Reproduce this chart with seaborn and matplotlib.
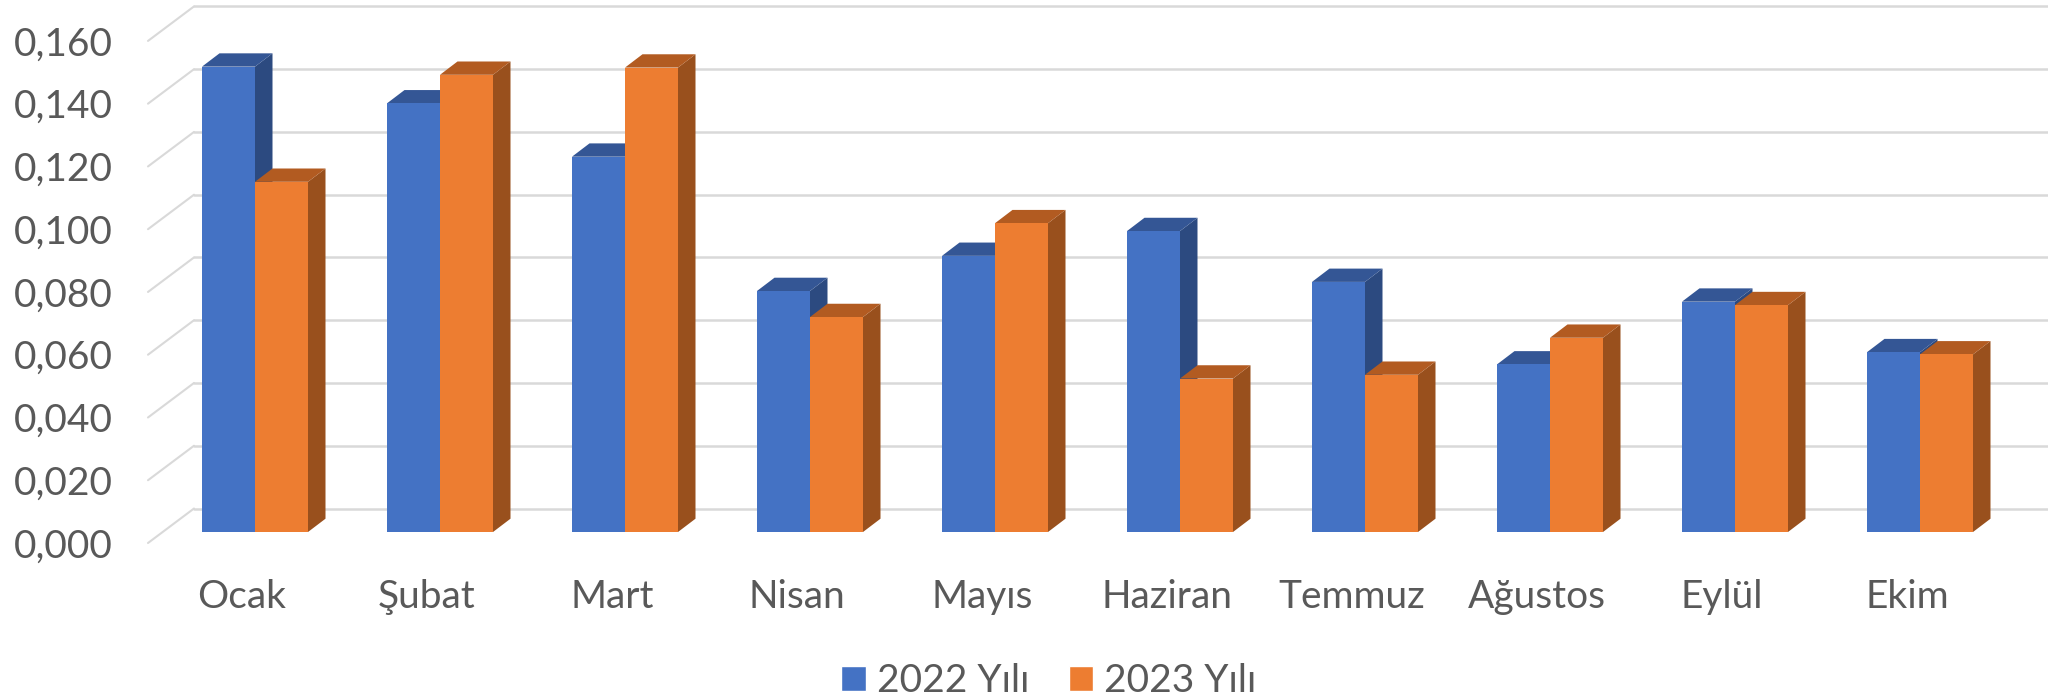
import matplotlib
matplotlib.use("Agg")
import matplotlib.pyplot as plt
from matplotlib.transforms import ScaledTranslation
import pandas as pd
import seaborn as sns

# Values
months = ["Ocak", "Şubat", "Mart", "Nisan", "Mayıs", "Haziran", "Temmuz", "Ağustos", "Eylül", "Ekim"]
values_2022 = [0.1483, 0.1366, 0.1196, 0.0768, 0.0880, 0.0959, 0.0797, 0.0534, 0.0734, 0.0573]
values_2023 = [0.1116, 0.1457, 0.1480, 0.0685, 0.0984, 0.0489, 0.0501, 0.0619, 0.0723, 0.0566]
series_names = ["2022 Yılı", "2023 Yılı"]
y_ticks = [0.00, 0.02, 0.04, 0.06, 0.08, 0.10, 0.12, 0.14, 0.16]
y_labels = ["0,000", "0,020", "0,040", "0,060", "0,080", "0,100", "0,120", "0,140", "0,160"]

front_colors = ["#4472C4", "#ED7D31"]
side_colors = ["#2C4A80", "#99501D"]
top_colors = ["#345695", "#B25B21"]
TEXT = "#595959"
GRID = "#D9D9D9"

WIDTH, HEIGHT, DPI = 2048, 697, 100
PX_X = 185.0  # pixels per category
PX_Y = 3138.0  # pixels per unit of value
BASE_X, BASE_Y = 255.0, 532.0  # first category centre, bar baseline


def dx(px):
    return px / PX_X


def dy(px):
    return px / PX_Y


sns.set_theme(style="white")
plt.rcParams["font.family"] = ["Lato", "DejaVu Sans"]

df = pd.DataFrame({
    "month": months * 2,
    "value": values_2022 + values_2023,
    "year": [series_names[0]] * len(months) + [series_names[1]] * len(months),
})

fig = plt.figure(figsize=(WIDTH / DPI, HEIGHT / DPI), dpi=DPI)
left, right, top = 148.0, 2048.0, 6.0
ax = fig.add_axes([left / WIDTH, 1 - BASE_Y / HEIGHT, (right - left) / WIDTH, (BASE_Y - top) / HEIGHT])

sns.barplot(
    data=df, x="month", y="value", hue="year", order=months, hue_order=series_names,
    palette=front_colors, width=106 / PX_X, saturation=1, gap=0, errorbar=None, ax=ax, zorder=3,
)

ax.set_xlim((left - BASE_X) / PX_X, (right - BASE_X) / PX_X)
ax.set_ylim(0, (BASE_Y - top) / PX_Y)

# Back wall and floor lines
for v in y_ticks:
    back = v + dy(23.5)
    front = v - dy(11)
    x0 = ax.get_xlim()[0]
    ax.plot([x0, x0 + dx(46)], [front, back], color=GRID, lw=1.5, clip_on=False, zorder=1)
    ax.plot([x0 + dx(46), ax.get_xlim()[1]], [back, back], color=GRID, lw=1.8, clip_on=False, zorder=1)

# Extruded side and top faces of each bar
depth_x, depth_y = dx(17.5), dy(13.3)
for s, container in enumerate(ax.containers):
    for bar in container:
        x0, w, h = bar.get_x(), bar.get_width(), bar.get_height()
        x1 = x0 + w
        bar.set_zorder(3.5 + s)
        bar.set_linewidth(0)
        ax.fill([x1, x1 + depth_x, x1 + depth_x, x1], [0, depth_y, h + depth_y, h],
                color=side_colors[s], lw=0, clip_on=False, zorder=3 + s)
        ax.fill([x0, x0 + depth_x, x1 + depth_x, x1], [h, h + depth_y, h + depth_y, h],
                color=top_colors[s], lw=0, clip_on=False, zorder=3 + s)

ax.set_xlabel("")
ax.set_ylabel("")
ax.set_yticks(y_ticks)
ax.set_yticklabels(y_labels)
ax.tick_params(axis="both", length=0, labelsize=28, labelcolor=TEXT)
ax.tick_params(axis="y", pad=25.5)
ax.tick_params(axis="x", pad=34)
sns.despine(ax=ax, left=True, bottom=True)
ax.grid(False)

# Labels sit on the front edge of the floor, not on the bar plane
shift_y = ScaledTranslation(0, -11 / DPI, fig.dpi_scale_trans)
for label in ax.get_yticklabels():
    label.set_transform(label.get_transform() + shift_y)
shift_x = ScaledTranslation(-13 / DPI, 0, fig.dpi_scale_trans)
for label in ax.get_xticklabels():
    label.set_transform(label.get_transform() + shift_x)

handles, labels = ax.get_legend_handles_labels()
ax.legend(
    handles, labels, loc="center", bbox_to_anchor=(1049 / WIDTH, 1 - 681 / HEIGHT),
    bbox_transform=fig.transFigure, ncol=2, frameon=False, fontsize=28, labelcolor=TEXT,
    handlelength=0.62, handleheight=0.62, handletextpad=0.3, columnspacing=1.0,
)

fig.savefig("out.png", dpi=DPI)
plt.close(fig)
